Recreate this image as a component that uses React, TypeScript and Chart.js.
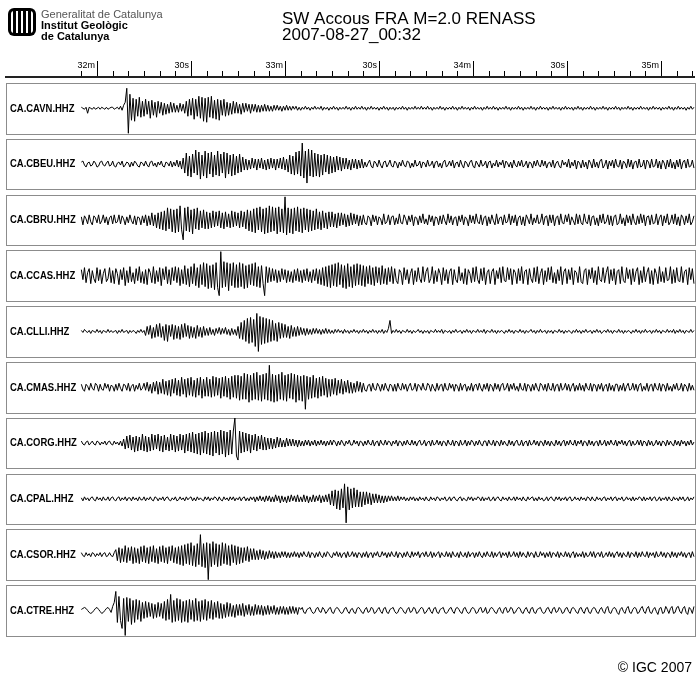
import React, { useEffect, useRef } from "react";
import { Chart, registerables } from "chart.js";

Chart.register(...registerables);

// time axis (seconds after 00:32:00), one sample every half second starting at T0
const T0 = -5;
const DT = 0.5;
const MAJOR_TICKS = [0, 30, 60, 90, 120, 150, 180];
const TICK_LABELS = ["32m", "30s", "33m", "30s", "34m", "30s", "35m"];
const MINOR_STEP = 5;

const STATIONS = [
  "CA.CAVN.HHZ", "CA.CBEU.HHZ", "CA.CBRU.HHZ", "CA.CCAS.HHZ", "CA.CLLI.HHZ",
  "CA.CMAS.HHZ", "CA.CORG.HHZ", "CA.CPAL.HHZ", "CA.CSOR.HHZ", "CA.CTRE.HHZ",
];

const CAVN = [
  1,0,-1,1,-5,1,0,-1,1,-1,0,1,-1,1,0,-1,1,-1,0,1,
  1,-1,0,1,-1,2,-2,3,6,20,-25,14,-12,10,-13,9,-8,11,-9,7,
  -8,9,-6,7,-10,8,-7,6,-9,7,-5,6,-7,5,-6,4,-5,6,-4,5,
  -4,3,-4,5,-3,4,-5,7,-8,9,-7,10,-11,9,-8,12,-10,11,-13,10,
  -14,11,-9,12,-10,8,-11,9,-12,8,-7,9,-8,6,-7,5,-6,7,-5,6,
  -5,4,-6,5,-4,5,-3,4,-5,4,-3,4,-4,3,-4,3,-3,4,-3,3,
  -3,2,-3,3,-2,3,-2,2,-3,2,-2,3,-2,2,-2,2,-1,2,-2,1,
  -2,1,-1,2,-1,1,-2,1,-1,2,-1,1,-1,2,-2,1,-1,1,-2,1,
  -1,2,-1,1,-2,1,-1,1,-1,2,-1,1,-2,1,-1,2,-1,1,-1,2,
  -1,1,-2,1,-1,2,-1,1,-1,1,-2,1,-1,2,-1,1,-2,1,-1,1,
  -2,1,-1,1,-1,2,-1,1,-2,1,-1,1,-1,2,-1,1,-1,2,-1,1,
  -1,2,-1,1,-2,1,-1,1,-1,2,-1,1,-2,1,-1,1,-1,2,-1,1,
  -2,1,-1,2,-1,1,-1,1,-2,1,-1,2,-1,1,-1,1,-2,1,-1,2,
  -1,1,-1,2,-1,1,-2,1,-1,1,-1,2,-1,1,-2,1,-1,1,-1,2,
  -1,1,-2,1,-1,1,-1,2,-1,1,-2,1,-1,2,-1,1,-1,1,-2,1,
  -1,2,-1,1,-1,1,-2,1,-1,2,-1,1,-1,1,-2,1,-1,2,-1,1,
  -2,1,-1,1,-1,2,-1,1,-2,1,-1,1,-1,2,-1,1,-2,1,-1,1,
  -1,2,-1,1,-2,1,-1,1,-1,2,-1,1,-2,1,-1,1,-1,2,-1,1,
  -1,1,-2,1,-1,2,-1,1,-1,1,-2,1,-1,1,-1,2,-1,1,-2,1,
  -1,2,-1,1,-1,1,-2,1,-1,2,-1,1,
];

const CBEU = [
  2,3,-1,-3,1,2,-2,-1,3,1,-3,-2,2,3,-1,-2,1,3,-2,-1,
  3,-2,-3,1,2,-1,3,-3,-1,2,1,-3,2,-2,3,1,-2,-3,2,1,
  -2,3,-1,-3,2,3,-2,1,-3,2,-1,3,-2,-3,2,1,-2,3,-3,2,
  -2,4,-3,3,-5,6,-9,11,-12,8,-13,10,-9,14,-11,12,-15,9,-12,13,
  -14,11,-10,12,-13,9,-11,13,-12,10,-9,12,-14,11,-10,9,-12,10,-11,8,
  -9,10,-8,7,-6,5,-6,4,-5,6,-4,5,-6,5,-4,6,-5,4,-6,5,
  -5,6,-4,5,-6,5,-4,6,-5,7,-6,5,-8,9,-10,8,-11,12,-10,13,
  -12,21,-14,13,-19,15,-12,14,-13,11,-12,10,-13,9,-11,10,-8,9,-10,8,
  -9,7,-8,8,-6,7,-7,6,-5,6,-5,4,-6,5,-4,5,-5,4,-4,5,
  -4,2,-3,1,4,-2,-4,3,1,-3,4,-1,-4,2,3,-3,0,4,-2,-3,
  3,1,-4,2,-2,4,-1,-3,3,2,-4,1,-3,4,-2,-1,3,-4,2,1,
  -3,4,-2,-1,3,-4,2,3,-3,1,-4,2,4,-3,-1,3,-2,4,-4,1,
  2,-3,4,-1,-4,3,1,-3,2,4,-2,-4,3,0,-3,4,-2,-1,3,-4,
  2,3,-4,1,-2,4,-3,2,-1,4,-4,3,1,-3,2,-4,4,-1,-3,3,
  -2,4,-3,-1,3,-4,2,1,-4,3,-2,4,-1,-3,4,-2,3,-4,1,2,
  -3,4,-4,1,3,-2,-4,4,-1,2,-3,5,-4,2,-2,4,-5,3,1,-4,
  4,-3,2,-5,4,1,-4,5,-3,2,-4,3,5,-4,-1,4,-5,3,-2,4,
  -4,5,-2,-3,4,-5,3,1,-4,5,-3,4,-5,2,3,-4,5,-3,-2,4,
  -5,4,2,-4,5,-3,-2,5,-4,3,-5,4,1,-5,4,-3,5,-4,2,-5,
  4,-3,5,-5,2,4,-4,5,-3,-2,4,-4,
];

const CBRU = [
  3,-5,4,1,-4,5,-2,-5,4,2,-3,5,-4,-1,5,-3,3,-5,2,4,
  -4,5,-3,-2,5,-4,4,1,-5,3,-3,5,-1,-4,4,-5,3,2,-5,4,
  -3,5,-6,4,-5,7,-6,5,-8,7,-9,8,-10,9,-11,12,-9,11,-12,10,
  -13,11,-12,14,-10,-20,12,-11,13,-12,10,-14,11,-9,12,-10,9,-8,10,-9,
  8,-9,7,-8,9,-7,8,-6,9,-8,7,-9,8,-7,6,-8,9,-7,8,-6,
  7,-8,9,-7,8,-9,10,-11,9,-12,11,-13,12,-10,13,-12,11,-14,12,-13,
  14,-12,13,-11,12,-14,13,-12,11,-13,23,-15,12,-13,11,-14,12,-11,13,-12,
  11,-13,12,-10,11,-12,10,-11,9,-10,11,-9,8,-10,9,-8,7,-9,8,-7,
  8,-7,6,-8,7,-6,7,-5,6,-7,5,-6,7,-5,6,-4,5,-6,4,-5,
  5,-3,-5,4,2,-6,5,-2,4,-5,3,1,-5,6,-4,-2,5,-5,3,4,
  -5,2,-4,6,-3,-4,5,1,-5,4,-2,5,-6,3,2,-5,4,-3,6,-4,
  1,-5,5,-2,4,-6,3,2,-5,4,-4,5,-1,-5,6,-3,4,-5,2,3,
  -6,4,-2,5,-5,3,1,-6,5,-3,4,-4,6,-2,-4,5,-5,2,4,-6,
  3,-4,5,-1,-5,6,-4,2,3,-5,5,-3,-2,6,-5,4,-3,5,-6,2,
  4,-5,3,-6,5,1,-4,6,-5,2,-3,5,-4,-2,6,-5,3,4,-6,5,
  -3,5,-6,2,4,-5,6,-3,-4,5,-2,6,-5,3,-1,-5,6,-4,5,-3,
  -5,6,-2,-4,5,-6,3,4,-5,2,-6,5,-3,6,-4,-2,5,-5,4,-6,
  3,5,-5,-3,6,-4,2,-6,5,-3,4,-5,6,-2,-5,4,-4,6,-3,5,
  -6,3,4,-5,5,-4,-3,6,-5,2,5,-6,4,-3,6,-5,-2,5,-4,6,
  -5,3,-6,5,2,-5,4,-3,6,-5,-2,4,
];

const CCAS = [
  6,-4,8,-7,3,7,-8,5,-3,-7,8,-5,6,-8,2,7,-6,-3,8,-7,
  5,-8,7,2,-9,6,-4,8,-10,5,-7,9,-6,3,-8,7,-5,9,-7,4,
  -8,6,-9,7,3,-7,9,-8,5,-6,8,-10,7,-4,9,-8,6,-9,8,-5,
  9,-7,8,-10,6,-8,10,-9,7,-11,9,-8,12,-10,8,-12,11,-9,13,-11,
  12,-13,10,-12,11,-14,13,-12,-20,24,-12,14,-11,13,-15,12,-10,13,-12,11,
  -12,13,-11,12,-13,10,-12,11,-9,12,-10,13,-11,9,-12,10,-8,-20,9,-7,
  8,-6,7,-5,6,-7,5,-6,7,-4,6,-7,5,-6,4,-7,6,-5,7,-6,
  5,-7,6,-5,7,-6,4,-7,6,-5,7,-8,6,-9,8,-10,9,-11,10,-12,
  11,-10,12,-11,13,-9,11,-12,10,-13,12,-11,9,-12,11,-10,12,-9,11,-10,
  10,-11,9,-8,10,-9,8,-10,9,-7,8,-9,10,-8,7,-9,8,-6,9,-8,
  7,-5,-8,6,3,-9,8,-4,6,-8,2,7,-9,5,-6,8,-3,-7,9,-6,
  4,8,-7,-3,9,-8,5,-6,7,2,-9,8,-5,6,-8,4,7,-9,6,-4,
  -7,9,-5,3,-8,7,-9,6,2,-7,8,-6,9,-4,-8,7,-5,8,-9,3,
  6,-8,4,7,-9,5,-3,8,-7,9,-5,-6,8,-4,7,-9,6,3,-8,7,
  -5,9,-8,4,6,-9,7,-3,-7,8,-6,9,-8,2,7,-9,5,-6,8,-4,
  9,-7,3,-8,6,-5,9,-9,4,7,-8,6,-4,8,-9,5,3,-7,9,-6,
  -8,5,7,-9,6,-3,8,-7,5,-9,9,-4,-6,8,-7,3,9,-8,6,-5,
  7,-9,4,6,-8,9,-5,-7,8,-3,6,-9,7,-6,4,8,-9,5,-7,9,
  -6,3,8,-8,5,-9,7,2,-8,9,-6,4,-7,8,-5,-4,9,-8,6,-7,
  8,-5,-6,9,-7,4,6,-9,8,-4,7,-8,
];

const CLLI = [
  1,-1,2,0,-1,1,-2,1,0,-1,2,-1,1,-2,1,0,-1,2,-1,1,
  -1,0,1,-2,1,-1,2,-1,0,1,-2,1,-1,1,0,-2,1,-1,2,-1,
  1,-4,5,-3,6,-7,4,-6,7,-5,8,-6,5,-9,7,-10,6,-5,7,-8,
  6,-7,5,-8,7,-6,8,-5,6,-7,5,-6,4,-7,6,-5,4,-6,5,-4,
  3,-4,4,-3,2,-4,3,-2,4,-3,3,-2,4,-3,2,-4,3,-3,2,-4,
  5,-7,9,-8,11,-10,13,-12,14,-11,12,-15,18,-20,15,-13,14,-12,13,-11,
  12,-10,11,-9,8,-10,9,-7,8,-6,7,-6,5,-7,6,-5,4,-5,5,-4,
  4,-3,3,-4,3,-3,2,-3,3,-2,3,-2,2,-3,2,-2,3,-2,2,-2,
  1,-2,2,-1,2,-1,1,-2,2,-1,1,-2,1,-1,2,-1,1,-2,1,-1,
  2,-1,1,-2,1,-1,2,-1,1,-2,1,-1,2,-2,1,-1,3,11,-2,1,
  -1,2,-1,1,-2,1,0,-1,2,-1,1,-2,1,-1,0,2,-1,1,-2,1,
  -1,1,-2,1,0,-1,2,-1,1,-1,2,-2,1,0,-1,1,-2,1,-1,2,
  -1,0,1,-2,1,-1,2,-1,1,-2,1,0,-1,2,-1,1,-1,2,-2,1,
  0,-1,2,-1,1,-2,1,-1,1,0,-2,1,-1,2,-1,1,-2,1,0,-1,
  2,-1,1,-2,1,-1,0,2,-1,1,-2,1,-1,2,-1,0,1,-2,1,-1,
  1,-2,1,0,-1,2,-1,1,-2,1,-1,1,0,-2,1,-1,2,-1,1,-2,
  1,-1,2,-1,0,1,-2,1,-1,2,-1,1,-2,0,1,-1,2,-1,1,-2,
  1,0,-1,2,-1,1,-2,1,-1,1,0,-2,1,-1,2,-1,1,-2,1,-1,
  2,-1,0,1,-2,1,-1,2,-1,1,-2,1,0,-1,2,-1,1,-1,2,-2,
  1,-1,2,-1,1,-2,1,0,-1,2,-1,1,
];

const CMAS = [
  3,-2,-4,3,1,-3,4,-1,-3,4,2,-4,3,-2,-3,4,-1,3,-4,2,
  1,-4,3,-3,4,-1,-4,3,2,-3,4,-4,1,3,-4,2,-2,4,-3,-1,
  4,-3,5,-4,3,-6,5,-4,6,-7,5,-6,8,-7,6,-8,7,-9,8,-6,
  9,-8,7,-9,10,-7,8,-10,9,-8,10,-9,7,-10,9,-8,10,-11,8,-9,
  10,-9,8,-10,11,-9,10,-8,9,-11,10,-9,11,-10,9,-12,11,-10,12,-11,
  12,-13,11,-12,14,-12,13,-15,12,-13,14,-12,15,-13,12,-14,13,-12,14,-13,
  22,-14,13,-15,12,-14,13,-12,15,-13,12,-14,13,-11,14,-12,13,-15,12,-13,
  11,-14,12,-22,11,-12,10,-11,12,-10,9,-11,10,-9,11,-8,9,-10,8,-9,
  8,-7,9,-8,7,-6,8,-7,6,-5,7,-6,5,-6,4,-5,6,-4,5,-5,
  4,-3,-4,2,3,-4,4,-2,-3,4,1,-4,3,-3,4,-1,-4,3,2,-4,
  3,-4,4,-1,-3,4,-2,3,-4,1,4,-3,-2,4,-4,3,1,-3,4,-2,
  -3,4,2,-4,3,-1,-4,4,-3,2,3,-4,4,-2,-3,4,-1,3,-4,3,
  1,-4,4,-3,2,3,-4,1,-3,4,-4,2,3,-3,4,-1,-4,3,-2,4,
  -4,3,1,-4,4,-2,3,-4,2,4,-3,-1,4,-4,3,-2,4,-3,1,-4,
  4,-2,-3,4,-4,3,1,-4,3,-3,4,-1,-4,4,2,-3,3,-4,4,-2,
  -3,4,-4,2,3,-4,4,-3,-1,4,-3,3,-4,1,4,-4,2,-3,4,-3,
  2,-4,4,-1,-3,4,-4,3,2,-4,3,-2,4,-4,1,3,-4,4,-3,2,
  -4,3,3,-4,2,-3,4,-4,1,4,-3,-2,4,-3,3,-4,2,4,-4,1,
  -3,4,-4,2,3,-4,4,-1,-3,4,-4,3,2,-4,4,-3,1,-4,3,-2,
  4,-3,-2,4,-4,3,1,-4,4,-3,2,-3,
];

const CORG = [
  2,-1,-2,1,2,-2,0,2,-1,-2,2,1,-2,1,-1,2,-2,1,2,-1,
  -2,2,-1,1,-2,2,-3,4,-6,7,-5,8,-7,6,-9,7,-8,6,-7,9,
  -8,7,-9,6,-8,9,-7,8,-6,9,-8,7,-9,8,-7,6,-8,9,-7,8,
  -9,7,-8,9,-7,8,-10,9,-8,10,-9,11,-10,9,-11,10,-12,11,-10,12,
  -11,10,-12,11,-13,12,-10,11,-12,13,-11,12,-14,11,-12,13,-11,12,25,-13,
  -17,12,-10,11,-9,10,-8,9,-10,8,-7,9,-8,7,-6,8,-7,6,-7,5,
  -6,5,-6,4,-5,6,-4,5,-4,3,-4,5,-3,4,-3,4,-3,3,-4,3,
  -3,2,-3,3,-2,3,-3,2,-2,3,-3,2,-2,3,-2,2,-3,2,-2,3,
  -2,3,1,-3,2,-2,3,0,-3,2,-1,3,-2,-2,3,-1,2,-3,2,1,
  -3,2,-2,3,-1,-2,3,-3,1,2,-3,3,-1,-2,3,-2,2,1,-3,2,
  -1,3,-3,2,1,-3,2,-2,3,-1,-2,3,-2,2,-3,1,3,-2,-1,3,
  -3,1,2,-3,3,-2,-1,3,-2,2,-3,2,1,-3,3,-1,-2,3,-3,2,
  1,-3,3,-2,-1,3,-3,2,-2,3,1,-3,2,-2,3,-1,-3,2,2,-3,
  3,-1,-2,3,-3,2,1,-3,3,-2,2,-1,-3,3,-2,2,-3,1,3,-2,
  -2,3,-3,1,2,-3,3,-2,-1,3,-2,2,-3,2,1,-3,3,-2,2,-3,
  2,-1,-3,3,-2,2,-3,1,3,-3,2,-2,3,-1,-2,3,-3,2,-1,3,
  -3,2,1,-3,3,-2,2,-3,1,2,-3,3,-2,-1,3,-3,2,-2,3,-1,
  -2,3,-3,2,-1,3,-2,2,-3,1,3,-3,2,-2,-1,3,-2,3,-3,2,
  1,-3,3,-2,2,-3,-1,3,-2,2,-3,2,1,-3,3,-2,2,-1,-3,3,
  -2,2,-3,3,-1,2,-3,2,-2,3,-2,1,
];

const CPAL = [
  1,-2,2,-1,1,-2,1,2,-1,-2,2,-1,1,-2,2,-1,-1,2,-2,1,
  2,-1,-2,1,2,-2,1,-1,2,-2,1,1,-2,2,-1,1,-2,2,-1,-1,
  2,-2,1,-1,2,-1,-2,2,1,-2,1,-1,2,-2,1,2,-1,-2,1,-1,
  2,-2,-1,2,-1,1,-2,2,-1,1,2,-2,1,-2,2,-1,1,-1,-2,2,
  -1,2,-2,1,-1,2,1,-2,2,-1,-2,2,-1,1,-2,2,-1,2,-2,1,
  -1,2,-2,1,2,-2,1,-2,2,-1,2,-3,2,-2,3,-2,2,-3,3,-2,
  3,-3,2,-3,4,-2,3,-4,3,-3,2,-4,3,-3,4,-2,3,-3,4,-3,
  2,-3,4,-3,3,-4,2,-3,4,-3,3,-2,4,-4,3,-3,4,-3,5,-6,
  8,-7,9,-10,8,-11,10,-9,15,-24,12,-11,10,-9,11,-8,9,-8,7,-8,
  7,-6,7,-5,6,-6,5,-4,5,-4,4,-4,3,-4,3,-3,3,-2,3,-2,
  2,-2,3,-2,2,-1,2,-2,1,-2,2,-1,2,-2,1,-2,2,-1,1,-2,
  2,-1,-2,2,-1,1,-2,2,1,-2,1,-1,2,-2,-1,2,-2,1,2,-1,
  -2,1,2,-2,1,-1,-2,2,-1,2,-2,1,-1,2,1,-2,2,-2,1,-1,
  2,-2,-1,2,-2,1,2,-1,-2,2,-1,1,-2,2,-1,-1,2,-2,2,-1,
  1,-2,2,-1,-2,2,-1,1,2,-2,1,-2,2,-1,1,-2,-1,2,-2,1,
  2,-1,-2,2,-1,2,-2,1,-1,2,-2,1,2,-2,-1,2,-1,1,-2,2,
  -1,1,-2,2,1,-2,2,-1,-2,2,-1,1,-2,1,2,-2,1,-1,2,-2,
  1,2,-2,1,-1,2,-2,-1,2,-1,1,-2,2,-2,1,-1,2,1,-2,2,
  -2,1,-1,2,-2,1,2,-2,-1,2,-2,1,-1,2,-2,2,-1,-2,2,-1,
  1,-2,2,-1,2,-2,-1,2,-2,1,-1,2,
];

const CSOR = [
  2,-1,-2,2,-1,1,-2,2,1,-2,1,-1,2,-2,1,2,-2,-1,2,-1,
  -2,2,5,-6,7,-8,6,-7,9,-8,7,-6,8,-9,7,-8,6,-9,8,-7,
  9,-8,7,-9,8,-7,9,-8,6,-9,8,-7,9,-8,7,-9,8,-6,9,-8,
  7,-9,8,-10,9,-11,10,-9,11,-10,12,-11,9,-12,11,-10,20,-12,11,-13,
  12,-25,11,-12,13,-10,11,-12,10,-11,12,-9,11,-10,9,-11,10,-8,9,-10,
  8,-9,7,-8,7,-6,8,-7,6,-5,6,-5,4,-5,5,-4,4,-5,3,-4,
  4,-3,3,-4,3,-3,2,-3,3,-2,3,-3,2,-3,2,-2,3,-2,2,-3,
  2,-2,3,-1,-2,3,-3,2,1,-3,2,-2,3,-1,-3,2,-2,3,1,-2,
  -3,2,-1,3,-2,2,-3,1,2,-3,3,-2,-1,3,-2,2,-3,2,1,-3,
  2,-2,3,-3,1,2,-3,2,-1,3,-2,-2,3,-1,2,-3,2,-2,3,-1,
  -2,3,-3,2,1,-3,2,-2,3,-1,-3,3,-2,2,-1,3,-3,1,2,-2,
  3,-2,-1,3,-3,2,-2,1,3,-3,2,-1,-2,3,-2,2,-3,3,-1,-2,
  2,-3,3,-1,-2,2,-3,3,-2,1,2,-3,2,-2,3,-1,-3,2,-2,3,
  -1,-2,3,-3,2,-2,1,3,-3,2,-1,2,-3,3,-2,-1,3,-2,2,-3,
  3,-2,2,-1,-3,3,-2,2,1,-3,3,-2,-2,3,-1,2,-3,2,-2,3,
  -3,2,1,-2,3,-3,2,-1,-2,3,-2,2,-3,1,3,-3,2,-2,1,-2,
  3,-3,2,-2,-1,3,-2,3,-3,1,2,-2,3,-3,-1,2,-2,3,-2,2,
  -3,1,3,-2,2,-3,2,-1,-2,3,-3,2,1,-2,3,-3,2,-2,3,-1,
  -2,3,-3,2,-1,2,-3,3,-2,-1,3,-2,2,-3,2,1,-3,3,-2,2,
  -3,2,-1,3,-2,2,-3,1,2,-3,3,-2,
];

const CTRE = [
  1,2,3,2,0,-2,-3,-2,0,2,3,1,-1,-3,-2,0,2,3,1,-2,
  4,8,19,-12,14,-10,-18,12,-25,13,-11,12,-14,10,-12,11,-9,10,-11,8,
  -8,9,-7,8,-6,7,-8,6,-7,8,-6,7,-8,9,-10,11,-9,16,-12,10,
  -11,12,-10,11,-12,9,-11,10,-12,11,-9,10,-11,12,-10,9,-11,10,-9,11,
  -10,9,-8,10,-9,8,-7,9,-8,7,-8,6,-7,8,-6,7,-6,5,-7,6,
  -5,6,-5,7,-6,5,-4,6,-5,4,-5,6,-4,5,-4,5,-5,4,-4,5,
  -4,4,-3,5,-4,3,-4,4,-3,4,-4,3,-4,4,-3,4,-3,3,-4,3,
  1,3,-2,-3,1,2,3,-1,-3,-2,2,3,-1,-2,3,1,-3,-1,2,3,
  -2,-3,1,3,2,-1,-3,-2,2,3,-1,-3,1,2,-2,-3,2,3,1,-2,
  -3,1,3,-2,-1,3,2,-3,-2,1,3,-1,-3,2,3,-2,-3,1,2,3,
  -1,-3,-2,2,3,1,-2,-3,1,3,-2,-1,3,2,-3,-2,1,3,2,-3,
  -2,1,3,-1,-3,2,3,-2,-3,1,2,3,-2,-3,-1,2,3,-1,-3,2,
  3,1,-2,-3,2,3,-1,-3,-2,2,3,1,-3,-2,2,3,-2,-1,3,-3,
  -2,2,3,1,-2,-3,1,3,-1,-3,2,3,-2,-1,3,2,-3,-2,1,3,
  2,-2,-3,1,3,-1,-3,2,3,-2,-3,1,2,3,-1,-3,-2,2,3,-1,
  -3,2,3,-2,-1,3,1,-3,-2,2,3,-1,-3,2,3,1,-2,-3,2,3,
  -1,-3,2,3,-2,-3,1,3,2,-2,-3,1,3,-1,-3,2,4,-2,-3,1,
  3,2,-2,-4,1,3,-1,-3,2,4,-2,-3,1,3,2,-3,-2,2,4,-1,
  -3,2,4,-2,-3,1,3,-1,-4,2,3,-3,-2,4,1,-3,2,4,-3,-2,
  3,4,-1,-3,2,4,-2,-4,3,1,-3,4,
];

const TRACES = [CAVN, CBEU, CBRU, CCAS, CLLI, CMAS, CORG, CPAL, CSOR, CTRE];

// vertical layout in plot units (1 unit = 1 px)
const Y_MAX = 553;
const PANEL_PERIOD = 55.8;
const PANEL_HEIGHT = 50.5;

const FONT = '"Liberation Sans", Arial, Helvetica, sans-serif';

const decorPlugin = {
  id: "seismoDecor",
  beforeDatasetsDraw(chart: any) {
    const ctx = chart.ctx as CanvasRenderingContext2D;
    const xs = chart.scales.x;
    const ys = chart.scales.y;
    ctx.save();

    // logo
    ctx.fillStyle = "#000";
    ctx.beginPath();
    (ctx as any).roundRect(8, 8, 28, 28, 6);
    ctx.fill();
    ctx.fillStyle = "#fff";
    ctx.beginPath();
    (ctx as any).roundRect(11, 11, 22, 22, 3);
    ctx.fill();
    ctx.fillStyle = "#000";
    for (let k = 0; k < 4; k++) ctx.fillRect(13 + k * 5, 11, 3, 22);

    ctx.textAlign = "left";
    ctx.textBaseline = "alphabetic";
    ctx.fillStyle = "#555";
    ctx.font = `11px ${FONT}`;
    ctx.fillText("Generalitat de Catalunya", 41, 18);
    ctx.fillStyle = "#000";
    ctx.font = `bold 11px ${FONT}`;
    ctx.fillText("Institut Geològic", 41, 29);
    ctx.fillText("de Catalunya", 41, 40);

    // title
    ctx.font = `17px ${FONT}`;
    ctx.fillText("SW Accous FRA M=2.0 RENASS", 282, 24);
    ctx.fillText("2007-08-27_00:32", 282, 40);

    // copyright
    ctx.textAlign = "right";
    ctx.font = `14px ${FONT}`;
    ctx.fillText("\u00A9 IGC 2007", 692, 672);

    // time axis
    ctx.strokeStyle = "#222";
    ctx.lineWidth = 2;
    ctx.beginPath();
    ctx.moveTo(5, 77);
    ctx.lineTo(695, 77);
    ctx.stroke();
    ctx.lineWidth = 1;
    ctx.strokeStyle = "#000";
    for (let t = T0; t <= xs.max; t += MINOR_STEP) {
      const px = Math.round(xs.getPixelForValue(t)) + 0.5;
      const major = MAJOR_TICKS.indexOf(t) >= 0;
      ctx.beginPath();
      ctx.moveTo(px, major ? 61 : 71);
      ctx.lineTo(px, 76);
      ctx.stroke();
    }
    ctx.font = `9px ${FONT}`;
    ctx.textAlign = "right";
    MAJOR_TICKS.forEach((t, k) => {
      const px = Math.round(xs.getPixelForValue(t));
      ctx.fillText(TICK_LABELS[k], px - 2, 68);
    });

    // panels
    STATIONS.forEach((name, i) => {
      const top = Math.round(ys.getPixelForValue(Y_MAX - PANEL_PERIOD * i));
      const bot = Math.round(ys.getPixelForValue(Y_MAX - PANEL_PERIOD * i - PANEL_HEIGHT));
      ctx.strokeStyle = "#8c8c8c";
      ctx.lineWidth = 1;
      ctx.strokeRect(6.5, top + 0.5, 689, bot - top);
      ctx.save();
      ctx.fillStyle = "#000";
      ctx.textAlign = "left";
      ctx.textBaseline = "middle";
      ctx.font = `bold 11px ${FONT}`;
      ctx.translate(10, (top + bot) / 2);
      ctx.scale(0.86, 1);
      ctx.fillText(name, 0, 0);
      ctx.restore();
    });
    ctx.restore();
  },
};

export default function App() {
  const ref = useRef<HTMLCanvasElement | null>(null);
  useEffect(() => {
    if (!ref.current) return;
    const datasets = TRACES.map((amps, i) => {
      const center = Y_MAX - PANEL_PERIOD * i - PANEL_HEIGHT / 2;
      return {
        label: STATIONS[i],
        data: amps.map((a, j) => ({ x: T0 + j * DT, y: center + a })),
        borderColor: "#000",
        borderWidth: 1,
        pointRadius: 0,
        tension: 0,
        fill: false,
        clip: false as any,
      };
    });
    const chart = new Chart(ref.current, {
      type: "line",
      data: { datasets },
      options: {
        animation: false,
        responsive: false,
        devicePixelRatio: 1,
        events: [],
        layout: { padding: { left: 80, right: 7, top: 83, bottom: 47 } },
        scales: {
          x: { type: "linear", min: -5.43, max: 190.2, display: false },
          y: { type: "linear", min: 0, max: Y_MAX, display: false },
        },
        plugins: { legend: { display: false }, tooltip: { enabled: false }, title: { display: false } },
      },
      plugins: [decorPlugin],
    });
    return () => chart.destroy();
  }, []);
  return (
    <div style={{ position: "absolute", left: 0, top: 0, width: 700, height: 683, background: "#fff" }}>
      <canvas ref={ref} width={700} height={683} style={{ display: "block" }} />
    </div>
  );
}
